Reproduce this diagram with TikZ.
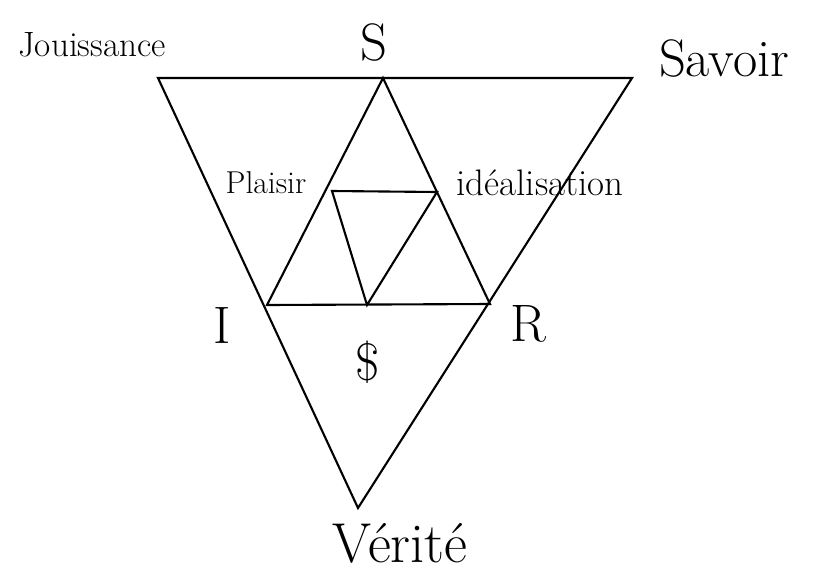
\documentclass[tikz,border=0pt]{standalone}
\usepackage{tikz}
\usetikzlibrary{positioning,calc}

\begin{document}
\begin{tikzpicture}[
			x=0.02cm,y=-0.02cm,
			edge/.style={draw,line width=1.2pt,line cap=round},
			lab/.style={inner sep=1pt,font=\fontsize{20}{22}\selectfont},
			biglab/.style={inner sep=1pt,font=\fontsize{30}{32}\selectfont},
			smalllab/.style={inner sep=1pt,font=\fontsize{18}{20}\selectfont}
			]
			
			\useasboundingbox (0,0) rectangle (815,575);
			
			% outer triangle
			\coordinate (jou) at (158,78);
			\coordinate (sav) at (632,78);
			\coordinate (ver) at (358,508);
			
			% middle triangle
			\coordinate (s) at (383,78);
			\coordinate (i) at (267,305);
			\coordinate (r) at (490,304);
			
			% inner triangle
			\coordinate (pla) at (332,191);
			\coordinate (ide) at (437,192);
			\coordinate (bar) at (367,305);
			
			\draw[edge] (jou) -- (sav) -- (ver) -- cycle;
			\draw[edge] (s) -- (i) -- (r) -- cycle;
			\draw[edge] (pla) -- (ide) -- (bar) -- cycle;
			
			\node[lab] (jouLab) at (92,45) {Jouissance};
			\node[biglab] (sLab) at (374,42) {S};
			\node[lab,font=\fontsize{30}{32}\selectfont] (savLab) at (724,58) {Savoir};
			\node[smalllab] (plaLab) at (266,183) {Plaisir};
			\node[smalllab,font=\fontsize{21}{23}\selectfont] (ideLab) at (540,183) {idéalisation};
			\node[biglab] (iLab) at (222,325) {I};
			\node[biglab] (barLab) at (368,362) {\$};
			\node[biglab] (rLab) at (528,324) {R};
			\node[lab,font=\fontsize{32}{34}\selectfont] (verLab) at (400,543) {Vérité};
			
		\end{tikzpicture}
\end{document}
